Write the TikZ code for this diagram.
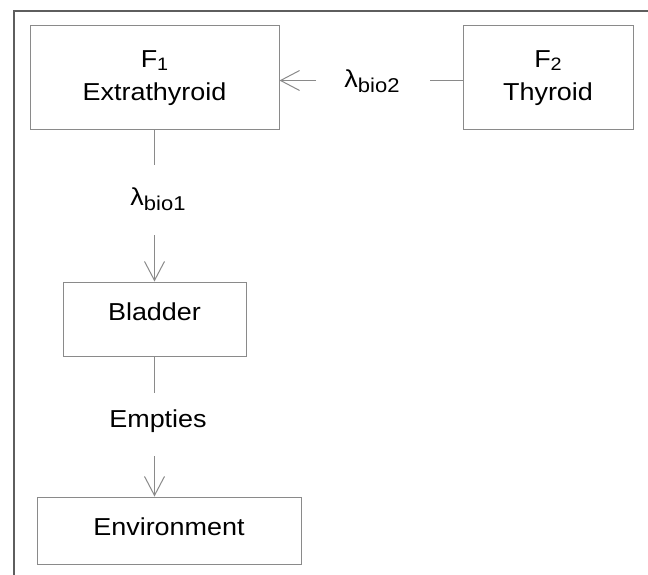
\documentclass[tikz,border=0pt]{standalone}
\usepackage{fontspec}
\setmainfont{Liberation Sans}[FakeStretch=1.1]
\usetikzlibrary{arrows.meta}
\definecolor{boxgray}{HTML}{8A8A8A}
\definecolor{linegray}{HTML}{8A8A8A}
\definecolor{framegray}{HTML}{5E5E5E}
\newcommand{\fsub}[1]{\raisebox{-3.5pt}{\fontsize{18}{18}\selectfont #1}}
\newcommand{\lsub}[1]{\raisebox{-5pt}{\fontsize{20}{20}\selectfont #1}}
\begin{document}
\begin{tikzpicture}[x=1pt,y=-1pt,
  box/.style={draw=boxgray, line width=1pt, inner sep=0pt, align=center,
    font=\fontsize{24.5}{33}\selectfont},
  lbl/.style={inner sep=0pt, font=\fontsize{24.5}{33}\selectfont},
  conn/.style={draw=linegray, line width=1pt},
  arr/.style={conn, -{Straight Barb[length=19pt,width=20pt,line width=1pt]}}]
\useasboundingbox (0,0) rectangle (648,575);
\fill[white] (0,0) rectangle (648,575);
\draw[framegray, line width=1.5pt] (14,575) -- (14,11) -- (648,11);

\node[box, minimum width=249pt, minimum height=104pt] (F1) at (154.5,78)
  {F\fsub{1}\\Extrathyroid};
\node[box, minimum width=170pt, minimum height=104pt] (F2) at (548,78)
  {F\fsub{2}\\Thyroid};
\node[box, minimum width=183pt, minimum height=74pt, text height=17pt, text depth=15pt]
  (B) at (154.5,319) {Bladder};
\node[box, minimum width=264pt, minimum height=67pt, text height=17pt, text depth=8pt]
  (E) at (169,530.5) {Environment};

\node[lbl] (lam2) at (372,81.5) {λ\lsub{bio2}};
\node[lbl] (lam1) at (158,199) {λ\lsub{bio1}};
\node[lbl] (emp) at (158,421.5) {Empties};

\coordinate (h1) at (430,80.5);
\coordinate (h2) at (316,80.5);
\coordinate (v1) at (154.5,165);
\coordinate (v2) at (154.5,235);
\coordinate (v3) at (154.5,393);
\coordinate (v4) at (154.5,456);

\draw[conn] (F2.west |- h1) -- (h1);
\draw[arr] (h2) -- (F1.east |- h2);
\draw[conn] (F1.south) -- (v1);
\draw[arr] (v2) -- (B.north);
\draw[conn] (B.south) -- (v3);
\draw[arr] (v4) -- (v4 |- E.north);
\end{tikzpicture}
\end{document}
